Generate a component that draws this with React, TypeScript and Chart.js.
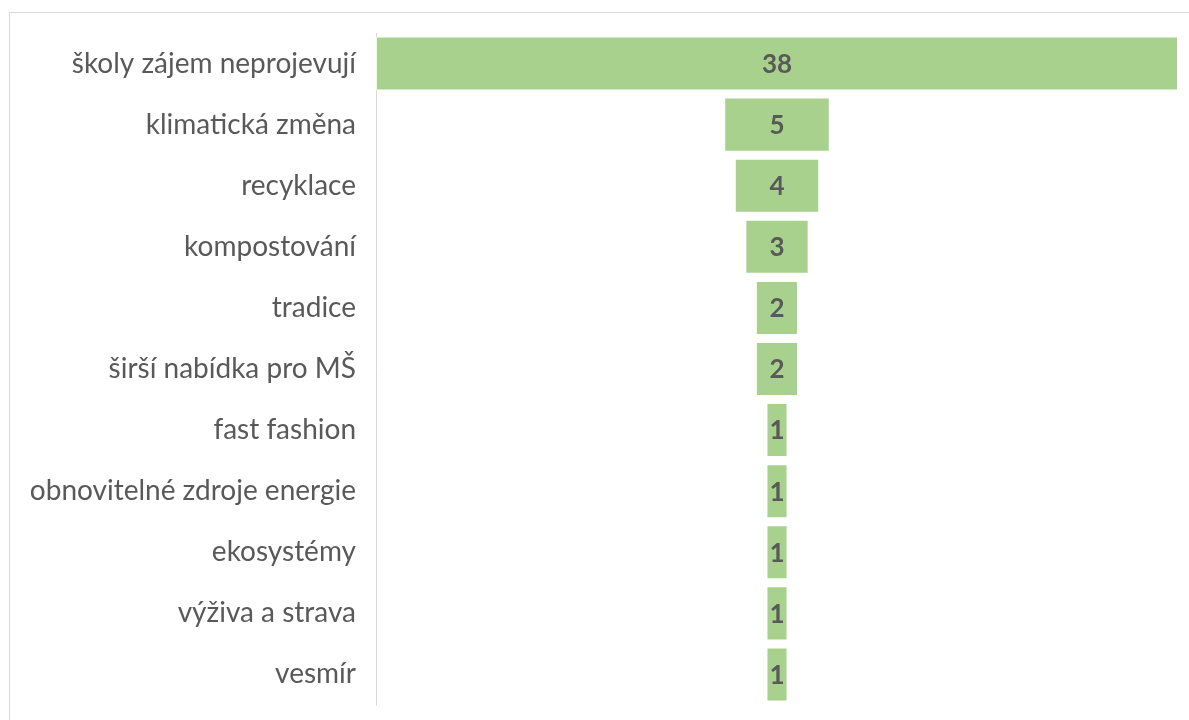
import React, { useEffect, useRef } from "react";
import { Chart, registerables } from "chart.js";

Chart.register(...registerables);

const categories = [
  "školy zájem neprojevují",
  "klimatická změna",
  "recyklace",
  "kompostování",
  "tradice",
  "širší nabídka pro MŠ",
  "fast fashion",
  "obnovitelné zdroje energie",
  "ekosystémy",
  "výživa a strava",
  "vesmír",
];
const values = [38, 5, 4, 3, 2, 2, 1, 1, 1, 1, 1];

const FONT = "Lato, 'Open Sans', sans-serif";
const TEXT = "#595959";

const labelPlugin = {
  id: "funnelLabels",
  afterDatasetsDraw(chart: any) {
    const { ctx } = chart;
    const meta = chart.getDatasetMeta(0);
    ctx.save();
    ctx.fillStyle = TEXT;
    ctx.font = `bold 26px ${FONT}`;
    ctx.textAlign = "center";
    ctx.textBaseline = "middle";
    meta.data.forEach((el: any, i: number) => {
      const cx = (el.x + el.base) / 2;
      ctx.fillText(String(values[i]), cx, el.y + 1);
    });
    ctx.restore();
  },
};

export default function App() {
  const ref = useRef<HTMLCanvasElement>(null);
  useEffect(() => {
    if (!ref.current) return;
    const maxV = Math.max(...values);
    const chart = new Chart(ref.current, {
      type: "bar",
      data: {
        labels: categories,
        datasets: [
          {
            data: values.map((v) => [-v / 2, v / 2]) as any,
            backgroundColor: "#A9D18E",
            borderColor: "rgba(255,255,255,0.7)",
            borderWidth: 1,
            borderSkipped: false,
            barPercentage: 0.885,
            categoryPercentage: 1,
          },
        ],
      },
      options: {
        indexAxis: "y",
        animation: false,
        responsive: false,
        maintainAspectRatio: false,
        layout: { padding: { left: 0, top: 33, right: 11, bottom: 15 } },
        plugins: { legend: { display: false }, tooltip: { enabled: false } },
        scales: {
          x: { display: false, min: -maxV / 2, max: maxV / 2 },
          y: {
            grid: { display: false, drawTicks: false },
            border: { display: true, color: "#d9d9d9", width: 1 },
            ticks: {
              color: TEXT,
              font: { family: FONT, size: 28 },
              padding: 20,
            },
            afterFit(scale: any) {
              scale.width = 376;
              scale.paddingTop = 0;
              scale.paddingBottom = 0;
            },
          },
        },
      },
      plugins: [labelPlugin],
    });
    return () => chart.destroy();
  }, []);
  return (
    <div style={{ position: "fixed", left: 0, top: 0, width: 1189, height: 720, background: "#fff", overflow: "hidden" }}>
      <div style={{ position: "absolute", left: 9, top: 12, width: 1200, height: 720, border: "1px solid #d9d9d9" }} />
      <canvas ref={ref} width={1189} height={720} style={{ position: "absolute", left: 0, top: 0 }} />
    </div>
  );
}
